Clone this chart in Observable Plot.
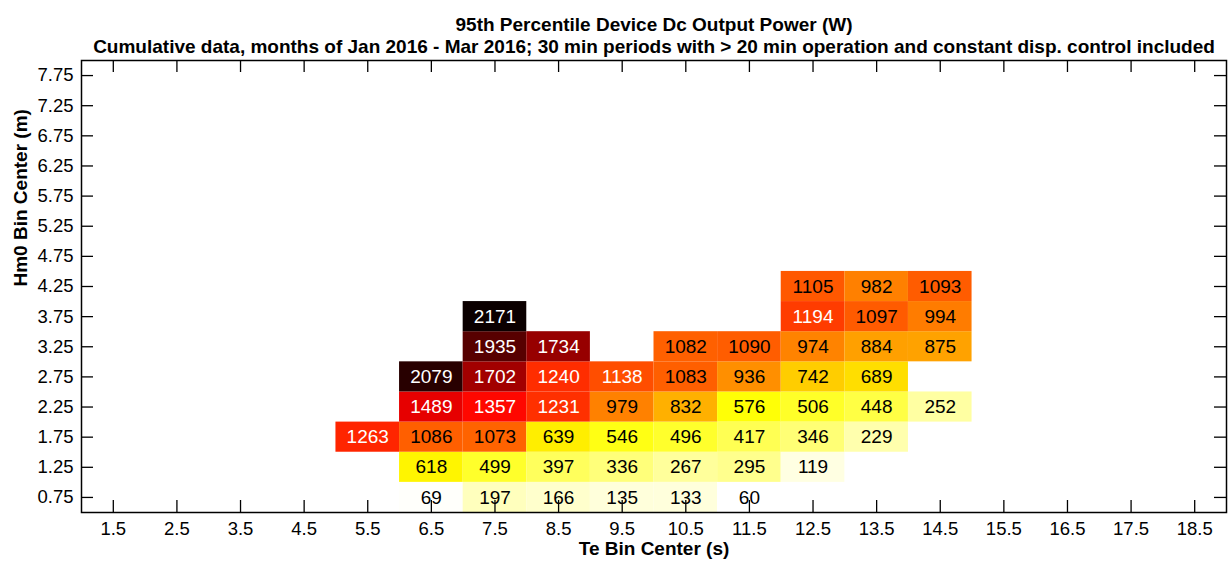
<!DOCTYPE html>
<html><head><meta charset="utf-8">
<script src="https://cdn.jsdelivr.net/npm/d3@7"></script>
<script src="https://cdn.jsdelivr.net/npm/@observablehq/plot@0.6"></script>
<style>body{margin:0;background:#fff}svg{display:block}</style>
</head><body><div id="chart"></div>
<script>
const titleText = "95th Percentile Device Dc Output Power (W)";
const subtitleText = "Cumulative data, months of Jan 2016 - Mar 2016; 30 min periods with > 20 min operation and constant disp. control included";
const xLabel = "Te Bin Center (s)";
const yLabel = "Hm0 Bin Center (m)";

const teTicks = [1.5, 2.5, 3.5, 4.5, 5.5, 6.5, 7.5, 8.5, 9.5, 10.5, 11.5, 12.5, 13.5, 14.5, 15.5, 16.5, 17.5, 18.5];
const hm0Ticks = [0.75, 1.25, 1.75, 2.25, 2.75, 3.25, 3.75, 4.25, 4.75, 5.25, 5.75, 6.25, 6.75, 7.25, 7.75];

// columns of the populated cells (Te bin centers)
const teCols = [5.5, 6.5, 7.5, 8.5, 9.5, 10.5, 11.5, 12.5, 13.5, 14.5];
const rowHm0 = [0.75, 1.25, 1.75, 2.25, 2.75, 3.25, 3.75, 4.25];
const row075 = [null, 69, 197, 166, 135, 133, 60, null, null, null];
const row125 = [null, 618, 499, 397, 336, 267, 295, 119, null, null];
const row175 = [1263, 1086, 1073, 639, 546, 496, 417, 346, 229, null];
const row225 = [null, 1489, 1357, 1231, 979, 832, 576, 506, 448, 252];
const row275 = [null, 2079, 1702, 1240, 1138, 1083, 936, 742, 689, null];
const row325 = [null, null, 1935, 1734, null, 1082, 1090, 974, 884, 875];
const row375 = [null, null, 2171, null, null, null, null, 1194, 1097, 994];
const row425 = [null, null, null, null, null, null, null, 1105, 982, 1093];
const rows = [row075, row125, row175, row225, row275, row325, row375, row425];

const cells = [];
rows.forEach((r, i) => r.forEach((v, j) => {
  if (v != null) cells.push({te: teCols[j], hm0: rowHm0[i], v});
}));

const clamp = u => Math.max(0, Math.min(1, u));
// reversed MATLAB "hot" colormap
function hotR(t) {
  const x = 1 - t;
  const r = clamp((x + 1/64) / 0.375);
  const g = clamp((x - 0.375) / 0.375);
  const b = clamp((x - 0.75) / 0.25);
  return `rgb(${Math.round(r*255)},${Math.round(g*255)},${Math.round(b*255)})`;
}

const W = 1232, H = 563, mT = 60, mB = 51, mL = 81, mR = 6;
const plotW = W - mL - mR, plotH = H - mT - mB;
const tick = 12;
const font = "Liberation Sans, Arial, sans-serif";

const chart = Plot.plot({
  width: W, height: H,
  marginTop: mT, marginBottom: mB, marginLeft: mL, marginRight: mR,
  style: {fontFamily: font, background: "white", color: "black"},
  x: {domain: [1, 19], label: null},
  y: {domain: [0.5, 8.0], label: null},
  color: {type: "linear", domain: [60, 2171], interpolate: hotR},
  marks: [
    Plot.rect(cells, {x1: d => d.te - 0.5, x2: d => d.te + 0.5, y1: d => d.hm0 - 0.25, y2: d => d.hm0 + 0.25, fill: "v"}),
    Plot.text(cells.filter(d => d.v <= 1110), {x: "te", y: "hm0", text: d => String(d.v), fill: "black", fontSize: 19}),
    Plot.text(cells.filter(d => d.v > 1110), {x: "te", y: "hm0", text: d => String(d.v), fill: "white", fontSize: 19}),
    // inward ticks
    Plot.tickX(teTicks, {x: d => d, insetTop: plotH - tick, stroke: "black", strokeWidth: 1.3}),
    Plot.tickX(teTicks, {x: d => d, insetBottom: plotH - tick, stroke: "black", strokeWidth: 1.3}),
    Plot.tickY(hm0Ticks, {y: d => d, insetRight: plotW - tick, stroke: "black", strokeWidth: 1.3}),
    Plot.tickY(hm0Ticks, {y: d => d, insetLeft: plotW - tick, stroke: "black", strokeWidth: 1.3}),
    Plot.axisX({ticks: teTicks, tickSize: 0, tickPadding: 9, tickFormat: d3.format(".1f"), fontSize: 18.5, label: null}),
    Plot.axisY({ticks: hm0Ticks, tickSize: 0, tickPadding: 8, tickFormat: d3.format(".2f"), fontSize: 18.5, label: null}),
    Plot.frame({stroke: "black", strokeWidth: 1.5}),
    Plot.text([xLabel], {frameAnchor: "bottom", dy: 42, fontWeight: "bold", fontSize: 19}),
    Plot.text([yLabel], {frameAnchor: "left", dx: -61, rotate: -90, fontWeight: "bold", fontSize: 19}),
    Plot.text([titleText], {frameAnchor: "top", dy: -43, fontWeight: "bold", fontSize: 19}),
    Plot.text([subtitleText], {frameAnchor: "top", dy: -21, fontWeight: "bold", fontSize: 19})
  ]
});
document.getElementById("chart").appendChild(chart);
</script>
</body></html>
